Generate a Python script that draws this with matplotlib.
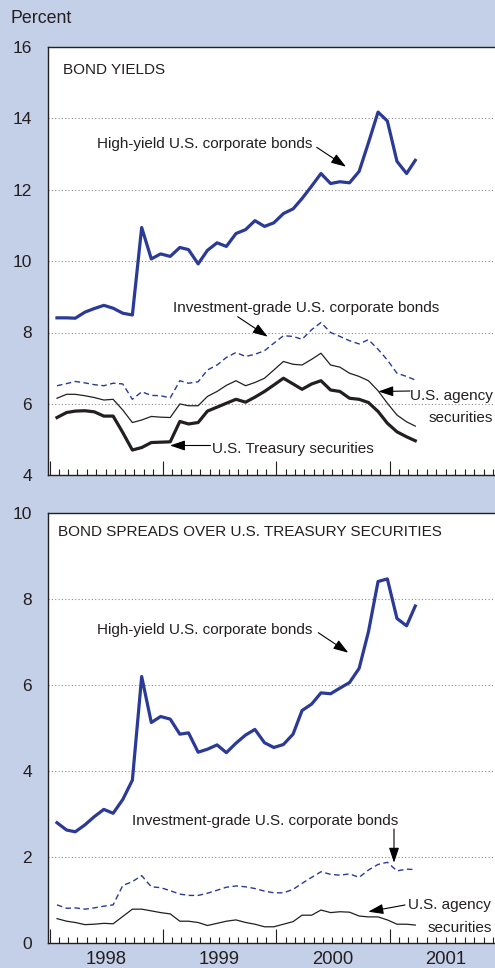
import pandas as pd
import matplotlib
matplotlib.use("Agg")
import matplotlib.pyplot as plt
import matplotlib.dates as mdates
import matplotlib.transforms as mtransforms
from matplotlib import font_manager

# monthly observations, Jan 1998 - Mar 2001
months = pd.date_range("1998-01-01", periods=39, freq="MS") + pd.Timedelta(days=24)

# bond yields, percent
high_yield = [8.41, 8.41, 8.40, 8.57, 8.67, 8.76, 8.68, 8.54, 8.49, 10.94,
              10.06, 10.20, 10.13, 10.38, 10.32, 9.92, 10.30, 10.51, 10.41, 10.77,
              10.88, 11.13, 10.97, 11.07, 11.33, 11.46, 11.75, 12.10, 12.45, 12.17,
              12.22, 12.19, 12.51, 13.31, 14.17, 13.92, 12.79, 12.45, 12.82]
invest_grade = [6.51, 6.57, 6.63, 6.59, 6.54, 6.51, 6.58, 6.56, 6.13, 6.34,
                6.24, 6.23, 6.17, 6.65, 6.58, 6.62, 6.95, 7.09, 7.30, 7.44,
                7.33, 7.39, 7.49, 7.70, 7.91, 7.89, 7.81, 8.08, 8.28, 8.00,
                7.89, 7.77, 7.68, 7.80, 7.53, 7.23, 6.86, 6.77, 6.67]
agency = [6.16, 6.27, 6.27, 6.23, 6.18, 6.11, 6.13, 5.83, 5.48, 5.55,
          5.65, 5.63, 5.62, 6.00, 5.95, 5.95, 6.21, 6.35, 6.52, 6.65,
          6.51, 6.60, 6.72, 6.95, 7.19, 7.11, 7.09, 7.25, 7.42, 7.09,
          7.03, 6.86, 6.77, 6.65, 6.37, 6.02, 5.69, 5.50, 5.38]
treasury = [5.62, 5.76, 5.80, 5.81, 5.78, 5.66, 5.66, 5.20, 4.71, 4.78,
            4.92, 4.93, 4.94, 5.51, 5.44, 5.48, 5.80, 5.91, 6.02, 6.13,
            6.05, 6.19, 6.35, 6.53, 6.72, 6.56, 6.41, 6.56, 6.65, 6.39,
            6.35, 6.16, 6.13, 6.04, 5.79, 5.46, 5.22, 5.08, 4.97]

# spreads over treasuries, percentage points
hy_spread = [2.79, 2.62, 2.58, 2.74, 2.93, 3.10, 3.01, 3.33, 3.78, 6.19,
             5.12, 5.26, 5.20, 4.85, 4.88, 4.43, 4.50, 4.60, 4.42, 4.64,
             4.83, 4.96, 4.65, 4.54, 4.61, 4.85, 5.40, 5.55, 5.81, 5.79,
             5.92, 6.05, 6.38, 7.23, 8.40, 8.46, 7.54, 7.37, 7.83]
ig_spread = [0.88, 0.80, 0.81, 0.78, 0.81, 0.85, 0.88, 1.33, 1.42, 1.56,
             1.30, 1.28, 1.21, 1.13, 1.10, 1.10, 1.15, 1.22, 1.29, 1.32,
             1.30, 1.26, 1.20, 1.16, 1.16, 1.24, 1.38, 1.52, 1.65, 1.59,
             1.57, 1.60, 1.52, 1.69, 1.82, 1.87, 1.67, 1.71, 1.70]
agency_spread = [0.56, 0.50, 0.47, 0.42, 0.43, 0.45, 0.44, 0.61, 0.78, 0.78,
                 0.74, 0.70, 0.67, 0.50, 0.50, 0.47, 0.40, 0.45, 0.50, 0.53,
                 0.47, 0.43, 0.37, 0.37, 0.43, 0.49, 0.64, 0.64, 0.76, 0.70,
                 0.72, 0.71, 0.62, 0.60, 0.60, 0.53, 0.43, 0.43, 0.41]

years = [1998, 1999, 2000, 2001]
top_yticks = [4, 6, 8, 10, 12, 14, 16]
bottom_yticks = [0, 2, 4, 6, 8, 10]

BG = "#c4cfe8"
BLUE = "#2a3a96"
INK = "#231f20"

installed = {f.name for f in font_manager.fontManager.ttflist}
if "Liberation Sans Narrow" in installed:
    COND, CSIZE = "Liberation Sans Narrow", 13
else:
    COND, CSIZE = "Liberation Sans", 11
plt.rcParams["font.family"] = ["Liberation Sans", "DejaVu Sans"]

W, H = 495, 968
fig = plt.figure(figsize=(W / 100, H / 100), dpi=100)
fig.patch.set_facecolor(BG)


def px_axes(left, top, width, height):
    return fig.add_axes([left / W, 1 - (top + height) / H, width / W, height / H])


def style(ax, yticks):
    ax.set_facecolor("white")
    start = pd.Timestamp("1997-12-27")
    ax.set_xlim(start, start + pd.Timedelta(days=470 / 113.3 * 365.25))
    ax.set_ylim(yticks[0], yticks[-1])
    ax.set_yticks(yticks)
    ax.tick_params(axis="y", length=0, pad=11.5, labelsize=12.5, labelcolor=INK)
    for g in yticks[1:-1]:
        ax.axhline(g, color="#8a8a8a", lw=0.8, ls=(0, (1, 2)), zorder=1)
    ax.xaxis.set_major_locator(mdates.YearLocator())
    ax.xaxis.set_minor_locator(mdates.MonthLocator())
    ax.tick_params(axis="x", which="major", direction="in", length=10,
                   width=0.8, color=INK, labelbottom=False)
    ax.tick_params(axis="x", which="minor", direction="in", length=4.5,
                   width=0.8, color=INK, labelbottom=False)
    for s in ["left", "top", "bottom"]:
        ax.spines[s].set_linewidth(1.0)
        ax.spines[s].set_color(INK)
    ax.spines["right"].set_visible(False)


def label(text, x, y, ha="left"):
    # x, y: anchor and baseline in reference pixels from top-left
    fig.text(x / W, 1 - y / H, text, family=COND, fontsize=CSIZE, color=INK,
             ha=ha, va="baseline")


def arrow(x0, y0, x1, y1):
    fig.add_artist(matplotlib.patches.FancyArrowPatch(
        posA=(x0 / W, 1 - y0 / H), posB=(x1 / W, 1 - y1 / H),
        transform=fig.transFigure, arrowstyle="-|>,head_length=0.65,head_width=0.22",
        mutation_scale=14, lw=0.8, color="black", shrinkA=0, shrinkB=0))


ax1 = px_axes(48, 46.7, 470, 428.7)
ax2 = px_axes(48, 512.7, 470, 430)
style(ax1, top_yticks)
style(ax2, bottom_yticks)

ax1.plot(months, invest_grade, color=BLUE, lw=1.0, ls=(0, (4, 2.5)), zorder=3)
ax1.plot(months, agency, color=INK, lw=0.9, zorder=3)
ax1.plot(months, treasury, color=INK, lw=2.3, zorder=3)
ax1.plot(months, high_yield, color=BLUE, lw=2.3, zorder=4)

ax2.plot(months, ig_spread, color=BLUE, lw=1.0, ls=(0, (4, 2.5)), zorder=3)
ax2.plot(months, agency_spread, color=INK, lw=0.9, zorder=3)
ax2.plot(months, hy_spread, color=BLUE, lw=2.3, zorder=4)

# year labels centred in each year
trans = mtransforms.blended_transform_factory(ax2.transData, fig.transFigure)
for y in years:
    ax2.text(pd.Timestamp(f"{y}-07-01"), 1 - 964 / H, str(y), transform=trans,
             ha="center", va="baseline", fontsize=13.3, color=INK)

fig.text(10 / W, 1 - 22.7 / H, "Percent", fontsize=12.8, color=INK,
         ha="left", va="baseline")

# top panel labels
label("BOND YIELDS", 62.7, 74.3)
label("High-yield U.S. corporate bonds", 96.7, 147.7)
arrow(316.7, 147.3, 346, 166.7)
label("Investment-grade U.S. corporate bonds", 173, 312.3)
arrow(237.7, 316.7, 267.7, 336.7)
label("U.S. agency", 493, 400, ha="right")
label("securities", 493, 421.7, ha="right")
arrow(410, 391, 378.3, 391.5)
label("U.S. Treasury securities", 211.7, 452.7)
arrow(210.5, 445.5, 170, 445.5)

# bottom panel labels
label("BOND SPREADS OVER U.S. TREASURY SECURITIES", 58.3, 536)
label("High-yield U.S. corporate bonds", 97.3, 634.3)
arrow(318.3, 632.7, 348.3, 652.7)
label("Investment-grade U.S. corporate bonds", 131.7, 825)
arrow(394, 829, 394, 862.7)
label("U.S. agency", 408, 909.3)
label("securities", 428, 931.7)
arrow(405, 905, 368.3, 911.7)

fig.savefig("out.png", dpi=100, facecolor=BG)
